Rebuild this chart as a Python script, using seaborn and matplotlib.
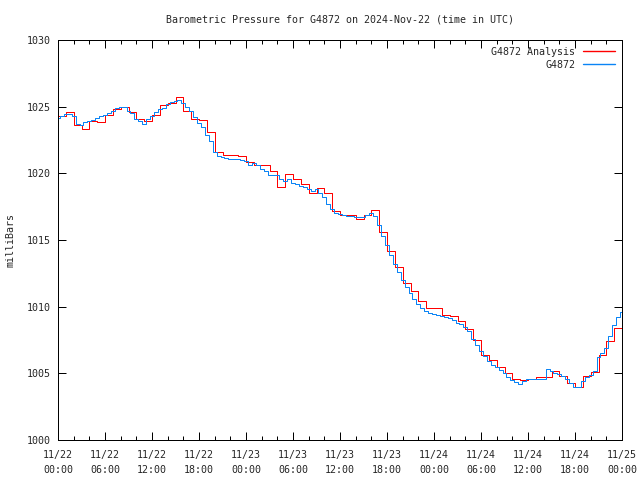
import numpy as np
import pandas as pd
import matplotlib
matplotlib.use("Agg")
import matplotlib.pyplot as plt
import seaborn as sns

# ---- data (hours since 2024-11-22 00:00 UTC) ----
station_hours = [i * 0.5 for i in range(145)]
station_mb = [
    1024.15, 1024.30, 1024.45, 1024.45, 1024.30, 1023.70, 1023.60, 1023.85,
    1023.90, 1024.00, 1024.15, 1024.30, 1024.40, 1024.50, 1024.70, 1024.90,
    1025.00, 1025.00, 1024.70, 1024.55, 1024.10, 1023.90, 1023.70, 1024.10,
    1024.30, 1024.60, 1024.80, 1024.90, 1025.20, 1025.35, 1025.45, 1025.50,
    1025.30, 1025.00, 1024.70, 1024.20, 1023.80, 1023.50, 1022.90, 1022.40,
    1021.60, 1021.30, 1021.20, 1021.15, 1021.10, 1021.10, 1021.05, 1021.00,
    1020.90, 1020.60, 1020.80, 1020.60, 1020.35, 1020.20, 1019.90, 1019.85,
    1019.85, 1019.60, 1019.45, 1019.60, 1019.30, 1019.20, 1019.05, 1018.95,
    1018.80, 1018.70, 1018.80, 1018.55, 1018.20, 1017.70, 1017.30, 1017.05,
    1016.95, 1016.85, 1016.80, 1016.80, 1016.75, 1016.70, 1016.70, 1016.85,
    1017.05, 1016.80, 1016.10, 1015.30, 1014.60, 1013.90, 1013.20, 1012.60,
    1012.00, 1011.50, 1011.00, 1010.60, 1010.20, 1009.90, 1009.65, 1009.55,
    1009.45, 1009.40, 1009.30, 1009.25, 1009.15, 1009.00, 1008.80, 1008.70,
    1008.50, 1008.15, 1007.60, 1007.10, 1006.70, 1006.30, 1005.90, 1005.65,
    1005.45, 1005.25, 1005.00, 1004.75, 1004.50, 1004.35, 1004.20, 1004.40,
    1004.55, 1004.60, 1004.55, 1004.60, 1004.60, 1005.30, 1005.20, 1005.00,
    1004.95, 1004.80, 1004.60, 1004.30, 1004.00, 1003.95, 1004.40, 1004.70,
    1004.90, 1005.20, 1006.20, 1006.50, 1006.90, 1007.80, 1008.60, 1009.20,
    1009.60,
]

analysis_hours = list(range(73))
analysis_mb = [
    1024.30, 1024.60, 1023.60, 1023.30, 1023.90, 1023.85, 1024.40, 1024.80,
    1025.00, 1024.60, 1024.10, 1023.90, 1024.40, 1025.10, 1025.30, 1025.70,
    1024.70, 1024.10, 1024.00, 1023.10, 1021.60, 1021.40, 1021.40, 1021.30,
    1020.85, 1020.60, 1020.60, 1020.20, 1019.00, 1019.95, 1019.60, 1019.20,
    1018.55, 1018.90, 1018.50, 1017.20, 1016.90, 1016.90, 1016.60, 1016.90,
    1017.25, 1015.60, 1014.20, 1013.00, 1011.80, 1011.20, 1010.40, 1009.90,
    1009.90, 1009.40, 1009.30, 1008.90, 1008.30, 1007.50, 1006.40, 1006.00,
    1005.50, 1005.00, 1004.60, 1004.50, 1004.60, 1004.70, 1004.70, 1005.15,
    1004.80, 1004.30, 1003.95, 1004.80, 1005.10, 1006.40, 1007.40, 1008.40,
    1010.00,
]

tick_hours = list(range(0, 73, 6))
tick_labels = [
    "11/22\n00:00", "11/22\n06:00", "11/22\n12:00", "11/22\n18:00",
    "11/23\n00:00", "11/23\n06:00", "11/23\n12:00", "11/23\n18:00",
    "11/24\n00:00", "11/24\n06:00", "11/24\n12:00", "11/24\n18:00",
    "11/25\n00:00",
]
y_ticks = [1000, 1005, 1010, 1015, 1020, 1025, 1030]

df_station = pd.DataFrame({"hours": station_hours, "mb": station_mb})
df_analysis = pd.DataFrame({"hours": analysis_hours, "mb": analysis_mb})

sns.set_theme(style="white")
plt.rcParams["font.family"] = ["DejaVu Sans Mono"]
FS = 7.2
LW = 0.72  # one pixel at 100 dpi

fig = plt.figure(figsize=(6.4, 4.8), dpi=100)
ax = fig.add_axes([58 / 640, 40 / 480, (622 - 58) / 640, 400 / 480])

RED = "#ff0000"
BLUE = "#0a84f5"

sns.lineplot(data=df_analysis, x="hours", y="mb", ax=ax, color=RED,
             drawstyle="steps-post", estimator=None,
             label="G4872 Analysis")
sns.lineplot(data=df_station, x="hours", y="mb", ax=ax, color=BLUE,
             drawstyle="steps-mid", estimator=None,
             label="G4872")
for ln in ax.lines:
    ln.set_linewidth(LW)
    ln.set_snap(True)

ax.set_xlim(0, 72)
ax.set_ylim(1000, 1030)
ax.set_xticks(tick_hours)
ax.set_xticklabels(tick_labels, fontsize=FS, linespacing=1.6)
ax.set_xticks(list(range(0, 73, 2)), minor=True)
ax.set_yticks(y_ticks)
ax.set_yticklabels([str(v) for v in y_ticks], fontsize=FS)

ax.tick_params(axis="both", which="major", direction="in", length=6,
               width=LW, color="black", top=True, right=True,
               bottom=True, left=True, pad=5)
ax.tick_params(axis="x", which="minor", direction="in", length=3,
               width=LW, color="black", top=True, bottom=True)
ax.tick_params(axis="x", which="major", pad=7.5)

for s in ax.spines.values():
    s.set_color("black")
    s.set_linewidth(LW)
    s.set_visible(True)

ax.set_xlabel("")
ax.set_ylabel("milliBars", fontsize=FS, labelpad=8)
ax.set_title("Barometric Pressure for G4872 on 2024-Nov-22 (time in UTC)",
             fontsize=FS, pad=12.5)
ax.grid(False)

leg = ax.legend(loc="upper right", frameon=False, fontsize=FS,
                markerfirst=False, handlelength=3.2, handletextpad=0.8,
                borderaxespad=0.3, labelspacing=0.3)
for h in leg.legend_handles:
    h.set_linewidth(1.0)

fig.savefig("out.png", dpi=100)
